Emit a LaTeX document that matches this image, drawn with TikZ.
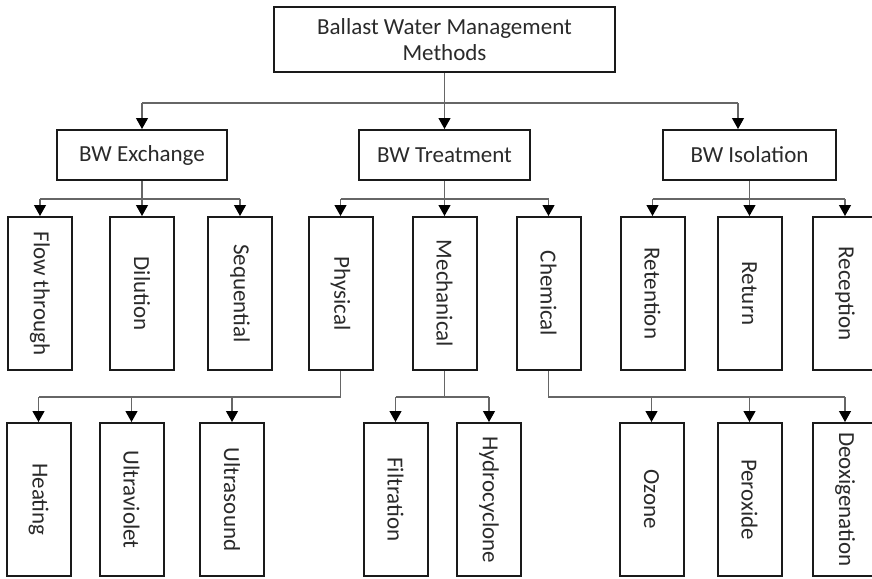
\documentclass[tikz,border=0pt]{standalone}
\usepackage{fontspec}
\usepackage{graphicx}
\setmainfont{Carlito}
\usetikzlibrary{arrows.meta}
\definecolor{txt}{HTML}{2A2A2A}
\definecolor{lin}{HTML}{666666}
\definecolor{brd}{HTML}{1A1A1A}
\tikzset{
  box/.style={draw=brd, line width=2pt, fill=white, inner sep=0pt, text=txt,
    font=\fontsize{23}{26}\selectfont, align=center},
  vbox/.style={box, minimum width=64pt, minimum height=153pt},
  hbox/.style={box, minimum height=50pt},
  conn/.style={draw=lin, line width=1.2pt},
  arr/.style={conn, -{Triangle[width=12pt,length=11pt,color=black]}},
}
\newcommand{\vt}[1]{\rotatebox{-90}{#1}}
\begin{document}
\begin{tikzpicture}[x=1pt,y=-1pt]
\useasboundingbox (0,0) rectangle (872,578);
% top
\node[box, minimum width=341pt, minimum height=65pt] (top) at (444.5,39.5) {Ballast Water Management\\Methods};
% level 1
\node[hbox, minimum width=170pt] (exch) at (142,155) {BW Exchange};
\node[hbox, minimum width=171pt] (treat) at (444.5,155) {BW Treatment};
\node[hbox, minimum width=173pt] (iso) at (749.5,155) {BW Isolation};
% level 2
\node[vbox] (flow) at (40,293.5) {\vt{Flow through}};
\node[vbox] (dil) at (142,293.5) {\vt{Dilution}};
\node[vbox] (seq) at (240,293.5) {\vt{Sequential}};
\node[vbox] (phys) at (340.5,293.5) {\vt{Physical}};
\node[vbox] (mech) at (444.5,293.5) {\vt{Mechanical}};
\node[vbox] (chem) at (548.5,293.5) {\vt{Chemical}};
\node[vbox] (reten) at (652.5,293.5) {\vt{Retention}};
\node[vbox] (retu) at (749.5,293.5) {\vt{Return}};
\node[vbox] (recep) at (845,293.5) {\vt{Reception}};
% level 3
\node[vbox] (heat) at (38.5,499.5) {\vt{Heating}};
\node[vbox] (uv) at (131.5,499.5) {\vt{Ultraviolet}};
\node[vbox] (us) at (232,499.5) {\vt{Ultrasound}};
\node[vbox] (filt) at (395.5,499.5) {\vt{Filtration}};
\node[vbox] (hydro) at (489,499.5) {\vt{Hydrocyclone}};
\node[vbox] (oz) at (651.5,499.5) {\vt{Ozone}};
\node[vbox] (per) at (749.5,499.5) {\vt{Peroxide}};
\node[vbox] (deox) at (845,499.5) {\vt{Deoxigenation}};
% bus coordinates
\coordinate (b1l) at (142,103);
\coordinate (b1r) at (738,103);
\coordinate (b2y) at (0,199);
\coordinate (b3y) at (0,397);
% top connectors
\draw[arr] (top.south) -- (treat.north);
\draw[conn] (b1l) -- (b1r);
\draw[arr] (b1l) -- (exch.north);
\draw[arr] (b1r) -- (b1r |- iso.north);
% exchange
\draw[conn] (exch.south) -- (exch.south |- b2y);
\draw[conn] (flow.north |- b2y) -- (seq.north |- b2y);
\draw[arr] (flow.north |- b2y) -- (flow.north);
\draw[arr] (dil.north |- b2y) -- (dil.north);
\draw[arr] (seq.north |- b2y) -- (seq.north);
% treatment
\draw[conn] (treat.south) -- (treat.south |- b2y);
\draw[conn] (phys.north |- b2y) -- (chem.north |- b2y);
\draw[arr] (phys.north |- b2y) -- (phys.north);
\draw[arr] (mech.north |- b2y) -- (mech.north);
\draw[arr] (chem.north |- b2y) -- (chem.north);
% isolation
\draw[conn] (iso.south) -- (iso.south |- b2y);
\draw[conn] (reten.north |- b2y) -- (recep.north |- b2y);
\draw[arr] (reten.north |- b2y) -- (reten.north);
\draw[arr] (retu.north |- b2y) -- (retu.north);
\draw[arr] (recep.north |- b2y) -- (recep.north);
% physical
\draw[conn] (phys.south) -- (phys.south |- b3y) -- (heat.north |- b3y);
\draw[arr] (heat.north |- b3y) -- (heat.north);
\draw[arr] (uv.north |- b3y) -- (uv.north);
\draw[arr] (us.north |- b3y) -- (us.north);
% mechanical
\draw[conn] (mech.south) -- (mech.south |- b3y);
\draw[conn] (filt.north |- b3y) -- (hydro.north |- b3y);
\draw[arr] (filt.north |- b3y) -- (filt.north);
\draw[arr] (hydro.north |- b3y) -- (hydro.north);
% chemical
\draw[conn] (chem.south) -- (chem.south |- b3y) -- (deox.north |- b3y);
\draw[arr] (oz.north |- b3y) -- (oz.north);
\draw[arr] (per.north |- b3y) -- (per.north);
\draw[arr] (deox.north |- b3y) -- (deox.north);
\end{tikzpicture}
\end{document}
